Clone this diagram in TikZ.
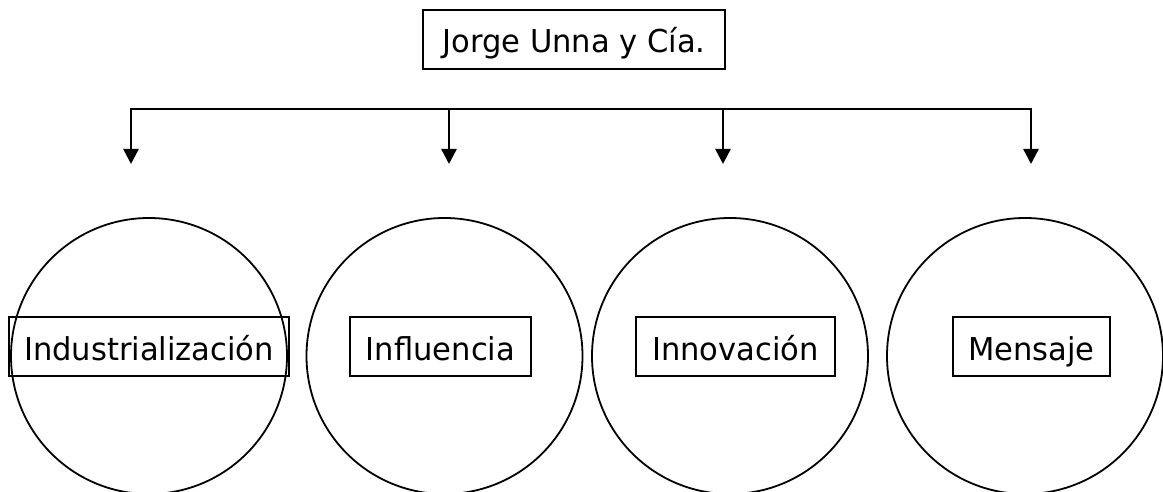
\documentclass[tikz,border=0pt]{standalone}
\usepackage{fontspec}
\setmainfont{DejaVu Sans}[FakeStretch=0.97]
\usetikzlibrary{arrows.meta}
\begin{document}
\begin{tikzpicture}[x=1pt,y=-1pt,
  lbl/.style={draw,line width=1.6pt,inner sep=0pt,minimum height=59pt,text height=28.5pt,text depth=1.5pt,font=\fontsize{31.5}{36}\selectfont},
  circ/.style={draw,circle,line width=1.8pt,minimum size=276pt,inner sep=0pt},
  conn/.style={line width=2.4pt},
  arr/.style={conn,-{Triangle[width=15pt,length=15pt]}}]
\useasboundingbox (0,0) rectangle (1163,492);
\begin{scope}
\clip (0,0) rectangle (1163,492);
\node[circ] (c1) at (149,356) {};
\node[circ] (c2) at (444.5,356) {};
\node[circ] (c3) at (730,356) {};
\node[circ] (c4) at (1025,356) {};
\end{scope}
\node[lbl,minimum width=302pt] (title) at (574,39.5) {Jorge Unna y Cía.};
\node[lbl,minimum width=280pt] (b1) at (149,346.5) {Industrialización};
\node[lbl,minimum width=181pt] (b2) at (440.5,346.5) {Influencia};
\node[lbl,minimum width=199pt] (b3) at (735.5,346.5) {Innovación};
\node[lbl,minimum width=157pt] (b4) at (1031.5,346.5) {Mensaje};
\coordinate (t1) at (131,109);
\coordinate (t2) at (449,109);
\coordinate (t3) at (723,109);
\coordinate (t4) at (1031,109);
\coordinate (e1) at (131,164);
\coordinate (e2) at (449,164);
\coordinate (e3) at (723,164);
\coordinate (e4) at (1031,164);
\draw[conn,line cap=rect] (t1) -- (t4);
\foreach \i in {1,2,3,4} \draw[arr] (t\i) -- (e\i);
\end{tikzpicture}
\end{document}
